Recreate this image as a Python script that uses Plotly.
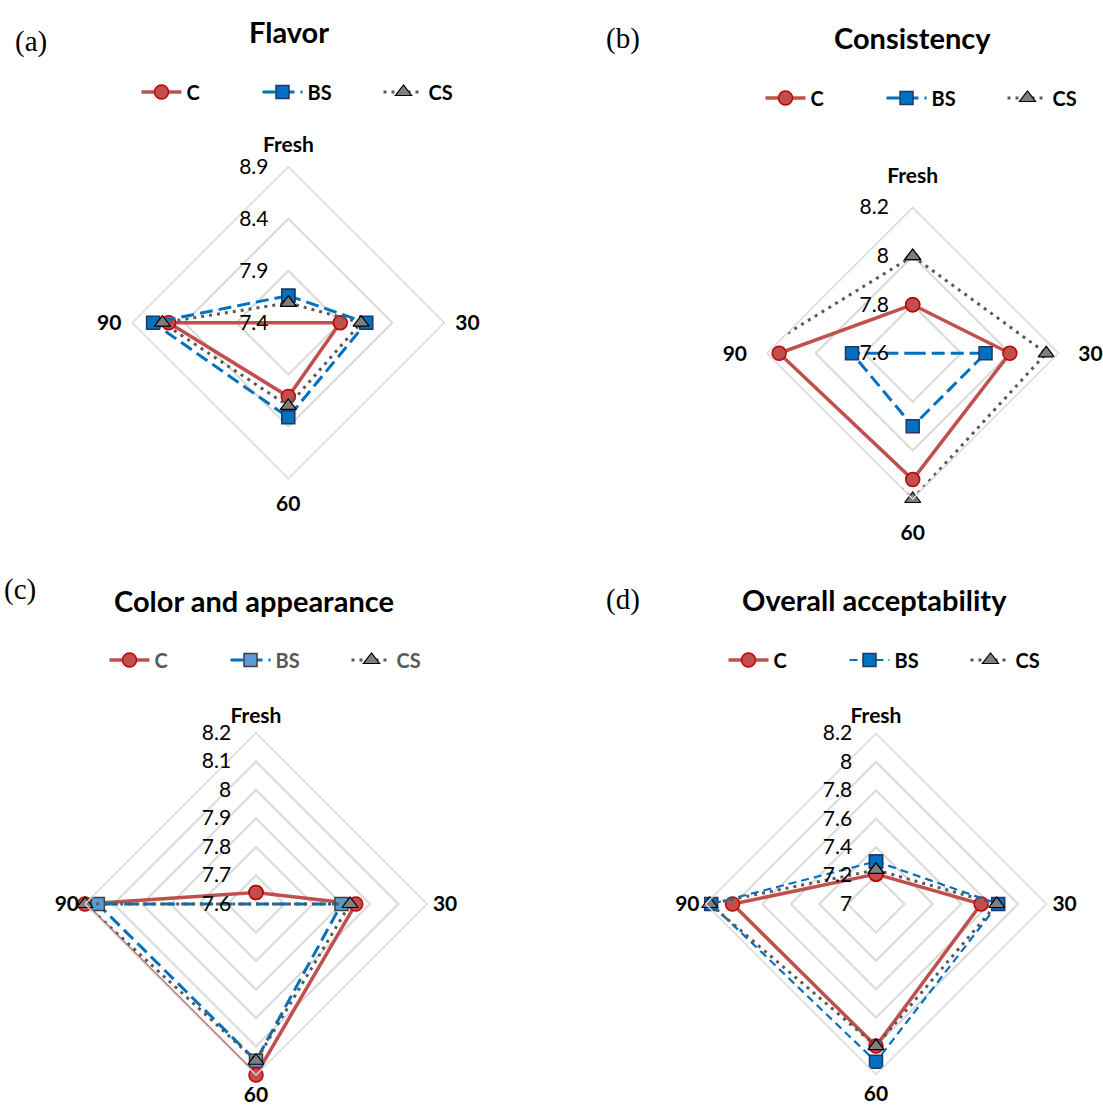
import plotly.graph_objects as go

W, H = 1103, 1108

categories = ["Fresh", "30", "60", "90"]
series_names = ["C", "BS", "CS"]

# Flavor
flavor_C = [7.40, 7.90, 8.11, 8.55]
flavor_BS = [7.66, 8.15, 8.31, 8.70]
flavor_CS = [7.59, 8.10, 8.20, 8.61]
flavor_ticks = [7.4, 7.9, 8.4, 8.9]
flavor_ticklabels = ["7.4", "7.9", "8.4", "8.9"]

# Consistency
cons_C = [7.80, 8.00, 8.12, 8.15]
cons_BS = [7.60, 7.90, 7.90, 7.85]
cons_CS = [8.00, 8.15, 8.20, 8.25]
cons_ticks = [7.6, 7.8, 8.0, 8.2]
cons_ticklabels = ["7.6", "7.8", "8", "8.2"]

# Color and appearance
color_C = [7.64, 7.95, 8.20, 8.20]
color_BS = [7.60, 7.90, 8.15, 8.155]
color_CS = [7.60, 7.93, 8.15, 8.20]
color_ticks = [7.6, 7.7, 7.8, 7.9, 8.0, 8.1, 8.2]
color_ticklabels = ["7.6", "7.7", "7.8", "7.9", "8", "8.1", "8.2"]

# Overall acceptability
overall_C = [7.21, 7.74, 8.00, 8.01]
overall_BS = [7.30, 7.86, 8.11, 8.16]
overall_CS = [7.24, 7.85, 8.00, 8.17]
overall_ticks = [7.0, 7.2, 7.4, 7.6, 7.8, 8.0, 8.2]
overall_ticklabels = ["7", "7.2", "7.4", "7.6", "7.8", "8", "8.2"]

panels = [
    dict(title="Flavor", tag="(a)", data=[flavor_C, flavor_BS, flavor_CS],
         ticks=flavor_ticks, labels=flavor_ticklabels,
         cx=288.3, cy=322.7, R=156, title_xy=(289, 32), tag_xy=(31, 42), leg_x=318, leg_y=92,
         legcolor="black", bs_fill="#0070C0", bs_w=3, bs_dash="13px,6px",
         alen=6, rlen=12),
    dict(title="Consistency", tag="(b)", data=[cons_C, cons_BS, cons_CS],
         ticks=cons_ticks, labels=cons_ticklabels,
         cx=912.7, cy=353.3, R=145.7, title_xy=(912.5, 37), tag_xy=(623, 38), leg_x=942, leg_y=98,
         legcolor="black", bs_fill="#0070C0", bs_w=3, bs_dash="13px,6px",
         alen=15, rlen=16),
    dict(title="Color and appearance", tag="(c)", data=[color_C, color_BS, color_CS],
         ticks=color_ticks, labels=color_ticklabels,
         cx=256, cy=904, R=171, title_xy=(254, 600), tag_xy=(20, 589), leg_x=286, leg_y=660,
         legcolor="#595959", bs_fill="#5B9BD5", bs_w=3, bs_dash="13px,6px",
         alen=1, rlen=17),
    dict(title="Overall acceptability", tag="(d)", data=[overall_C, overall_BS, overall_CS],
         ticks=overall_ticks, labels=overall_ticklabels,
         cx=876, cy=904, R=170.5, title_xy=(874, 599), tag_xy=(623, 599), leg_x=905, leg_y=660,
         legcolor="black", bs_fill="#0070C0", bs_w=2.2, bs_dash="8px,5px",
         alen=1, rlen=16),
]

FONT = "Lato"
fig = go.Figure()
layout = dict(width=W, height=H, margin=dict(l=0, r=0, t=0, b=0, autoexpand=False),
              paper_bgcolor="white", plot_bgcolor="white", annotations=[])

for i, p in enumerate(panels):
    pk = "polar" if i == 0 else f"polar{i+1}"
    lk = "legend" if i == 0 else f"legend{i+1}"
    styles = [
        dict(line=dict(color="#C0504D", width=3.5, dash="solid"),
             marker=dict(symbol="circle", size=14, color="#C0504D",
                         line=dict(color="#C00000", width=1.5))),
        dict(line=dict(color="#0070C0", width=p["bs_w"], dash=p["bs_dash"]),
             marker=dict(symbol="square", size=13, color=p["bs_fill"],
                         line=dict(color="#1F3864" if i != 2 else "#404040", width=1.5))),
        dict(line=dict(color="#595959", width=3, dash="3px,5px"),
             marker=dict(symbol="triangle-up", size=14, color="#7F7F7F",
                         line=dict(color="#000000", width=1.2))),
    ]
    for name, vals, st in zip(series_names, p["data"], styles):
        fig.add_trace(go.Scatterpolar(
            r=vals + vals[:1], theta=categories + categories[:1],
            mode="lines+markers", name=name, subplot=pk, legend=lk,
            cliponaxis=False, line=st["line"], marker=st["marker"]))
    cx, cy, R = p["cx"], p["cy"], p["R"]
    layout[pk] = dict(
        domain=dict(x=[(cx - R) / W, (cx + R) / W], y=[1 - (cy + R) / H, 1 - (cy - R) / H]),
        gridshape="linear", bgcolor="rgba(0,0,0,0)",
        radialaxis=dict(range=[p["ticks"][0], p["ticks"][-1]], tickvals=p["ticks"],
                        ticktext=p["labels"], angle=90, tickangle=90, side="counterclockwise",
                        showline=False, ticks="outside", ticklen=p["rlen"],
                        tickcolor="rgba(0,0,0,0)",
                        gridcolor="#D9D9D9", gridwidth=1.5,
                        tickfont=dict(family=FONT, size=21, color="black")),
        angularaxis=dict(direction="clockwise", rotation=90, showgrid=False,
                         linecolor="#D9D9D9", linewidth=1.5, ticks="outside", ticklen=p["alen"],
                         tickcolor="rgba(0,0,0,0)",
                         tickfont=dict(family=FONT, size=21, color="black", weight="bold")),
    )
    layout[lk] = dict(orientation="h", x=p["leg_x"] / W, xanchor="center",
                      y=1 - p["leg_y"] / H, yanchor="middle", itemwidth=40,
                      entrywidth=66, entrywidthmode="pixels",
                      bgcolor="rgba(0,0,0,0)",
                      font=dict(family=FONT, size=20, color=p["legcolor"], weight="bold"))
    layout["annotations"].append(dict(
        text=p["title"], x=p["title_xy"][0] / W, y=1 - p["title_xy"][1] / H,
        xref="paper", yref="paper",
        showarrow=False, xanchor="center", yanchor="middle",
        font=dict(family=FONT, size=29, color="black", weight="bold")))
    layout["annotations"].append(dict(
        text=p["tag"], x=p["tag_xy"][0] / W, y=1 - p["tag_xy"][1] / H, xref="paper", yref="paper",
        showarrow=False, xanchor="center", yanchor="middle",
        font=dict(family="Liberation Serif", size=29, color="black")))

fig.update_layout(**layout)
fig.write_html("out.html", config={"displayModeBar": False},
               post_script="document.body.style.margin='0px';")
